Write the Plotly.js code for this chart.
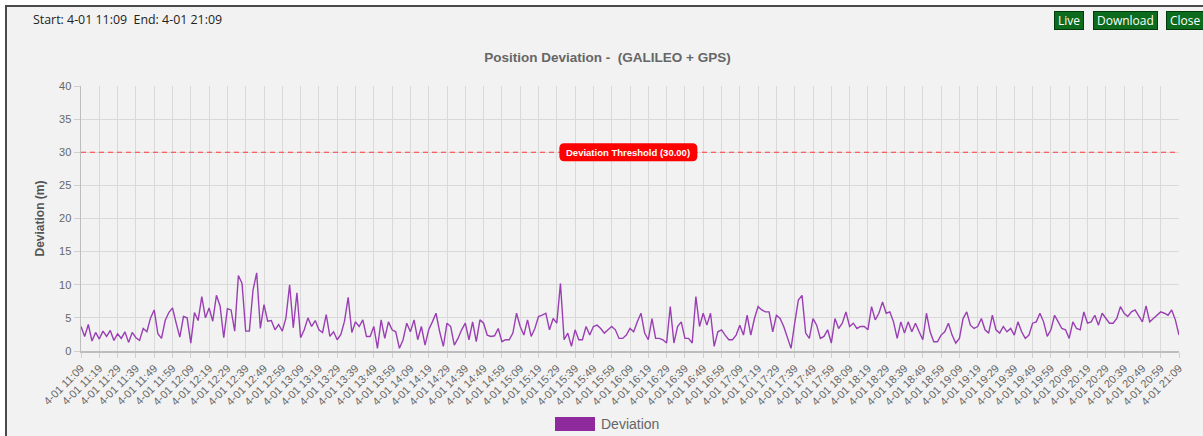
<!DOCTYPE html>
<html>
<head>
<meta charset="utf-8">
<script src="https://cdn.plot.ly/plotly-3.0.1.min.js"></script>
<style>
  html, body { margin: 0; padding: 0; background: #ffffff; width: 1203px; height: 436px; overflow: hidden; }
  #frame { position: absolute; left: 5px; top: 5px; width: 1200px; height: 440px; background: #f2f2f2;
           border-top: 2px solid #4a4a4a; border-left: 2px solid #4a4a4a; box-sizing: border-box; }
  #chart { position: absolute; left: 0; top: 0; width: 1203px; height: 436px; }
  #hdr { position: absolute; left: 33px; top: 11px; font-family: "Open Sans", "Noto Sans", sans-serif; font-size: 12.4px; color: #222; }
  .btn { position: absolute; top: 11px; height: 19px; line-height: 17px; box-sizing: border-box; background: #0c6b1c;
         border: 1px solid #003b0a; color: #ffffff; font-family: "Open Sans", "Noto Sans", sans-serif; font-size: 12px;
         padding: 0 3px; white-space: nowrap; }
</style>
</head>
<body>
<div id="frame"></div>
<div id="chart"></div>
<div id="hdr">Start: 4-01 11:09&nbsp; End: 4-01 21:09</div>
<div class="btn" style="left:1054px;width:30px;">Live</div>
<div class="btn" style="left:1093px;width:65px;">Download</div>
<div class="btn" style="left:1166px;width:42px;">Close</div>
<script>
// ---- data ----
const startLabel = "4-01 11:09";
const endLabel = "4-01 21:09";
const stepMinutes = 2;
const deviation = [
  3.7, 2.2, 4.0, 1.5, 2.8, 1.8, 3.0, 2.2, 3.1, 1.6, 2.6, 1.9, 2.9, 1.3, 2.8, 2.0, 1.6, 3.4, 2.9, 5.0,
  6.2, 2.6, 1.9, 4.6, 5.8, 6.5, 4.2, 2.1, 5.2, 5.0, 1.2, 5.8, 4.6, 8.2, 5.0, 6.5, 4.5, 8.4, 6.8, 2.0,
  6.4, 6.2, 3.0, 11.4, 10.2, 3.0, 3.0, 9.2, 11.8, 3.4, 7.0, 4.5, 4.6, 3.2, 4.0, 3.0, 5.0, 10.0, 3.5, 8.8,
  2.0, 3.2, 5.0, 3.7, 4.6, 3.2, 2.8, 5.5, 2.2, 2.9, 1.7, 2.5, 4.5, 8.1, 2.8, 4.4, 3.7, 4.7, 2.2, 2.2,
  3.7, 0.4, 4.7, 1.9, 4.4, 3.2, 2.9, 0.4, 1.7, 4.2, 2.9, 4.7, 1.7, 3.7, 0.9, 3.2, 4.4, 5.7, 2.9, 0.7,
  4.2, 3.7, 0.9, 1.9, 3.2, 4.2, 1.7, 4.4, 1.4, 4.7, 4.2, 2.4, 2.2, 2.3, 3.4, 1.4, 1.7, 1.7, 2.7, 5.7,
  3.7, 2.4, 4.7, 2.2, 3.4, 5.2, 5.4, 5.7, 3.2, 4.9, 4.2, 10.2, 1.7, 2.7, 0.7, 3.2, 1.7, 1.7, 3.7, 2.4,
  3.7, 3.9, 3.4, 2.7, 3.2, 3.7, 3.2, 1.9, 1.9, 2.4, 3.4, 2.9, 4.4, 5.7, 2.7, 1.7, 4.9, 1.9, 1.9, 1.7,
  1.2, 6.7, 1.2, 3.7, 4.4, 1.9, 1.9, 1.2, 8.2, 3.7, 5.7, 3.9, 5.7, 0.7, 2.9, 3.2, 2.4, 1.7, 1.7, 2.4,
  3.9, 2.4, 5.4, 2.4, 4.9, 6.7, 6.2, 5.9, 5.9, 2.9, 5.4, 4.9, 3.7, 2.2, 0.4, 4.2, 7.7, 8.4, 2.7, 1.9,
  4.9, 3.9, 1.9, 2.2, 3.2, 1.2, 4.9, 3.4, 4.2, 5.9, 3.7, 4.2, 3.4, 3.7, 3.7, 3.2, 6.7, 4.7, 5.7, 7.4,
  5.7, 5.9, 4.4, 1.9, 4.4, 2.7, 4.4, 2.9, 4.2, 2.9, 1.7, 5.7, 2.9, 1.4, 1.4, 2.4, 2.9, 4.2, 2.4, 1.2,
  1.9, 4.9, 5.9, 3.9, 3.4, 3.7, 4.9, 3.2, 2.7, 5.4, 3.2, 2.7, 3.7, 2.9, 3.4, 2.4, 4.4, 2.9, 1.9, 2.4,
  4.2, 4.4, 5.7, 4.4, 2.2, 3.2, 5.4, 4.4, 3.4, 3.2, 1.9, 4.4, 3.4, 3.2, 5.9, 4.2, 4.4, 5.4, 3.9, 5.7,
  4.9, 4.2, 4.2, 4.9, 6.7, 5.7, 5.2, 5.9, 6.2, 5.2, 4.4, 6.8, 4.4, 4.9, 5.4, 5.9, 5.7, 5.4, 6.2, 4.7,
  2.4
];
const tickLabels = [
  "4-01 11:09","4-01 11:19","4-01 11:29","4-01 11:39","4-01 11:49","4-01 11:59",
  "4-01 12:09","4-01 12:19","4-01 12:29","4-01 12:39","4-01 12:49","4-01 12:59",
  "4-01 13:09","4-01 13:19","4-01 13:29","4-01 13:39","4-01 13:49","4-01 13:59",
  "4-01 14:09","4-01 14:19","4-01 14:29","4-01 14:39","4-01 14:49","4-01 14:59",
  "4-01 15:09","4-01 15:19","4-01 15:29","4-01 15:39","4-01 15:49","4-01 15:59",
  "4-01 16:09","4-01 16:19","4-01 16:29","4-01 16:39","4-01 16:49","4-01 16:59",
  "4-01 17:09","4-01 17:19","4-01 17:29","4-01 17:39","4-01 17:49","4-01 17:59",
  "4-01 18:09","4-01 18:19","4-01 18:29","4-01 18:39","4-01 18:49","4-01 18:59",
  "4-01 19:09","4-01 19:19","4-01 19:29","4-01 19:39","4-01 19:49","4-01 19:59",
  "4-01 20:09","4-01 20:19","4-01 20:29","4-01 20:39","4-01 20:49","4-01 20:59",
  "4-01 21:09"
];
const tickMinutes = 10;
const threshold = 30;
const seriesName = "Deviation";
const chartTitle = "Position Deviation -  (GALILEO + GPS)";
const yTitle = "Deviation (m)";

// ---- build ----
const xMinutes = deviation.map((_, i) => i * stepMinutes);
const tickVals = tickLabels.map((_, i) => i * tickMinutes);
const lineColor = "#9a3fb3";
const fam = "Liberation Sans, Arial, sans-serif";
const axisFont = { family: fam, size: 11, color: "#666666" };

const trace = {
  type: "scatter", mode: "lines", name: seriesName,
  x: xMinutes, y: deviation,
  line: { color: lineColor, width: 1.4 },
  showlegend: false, hoverinfo: "x+y"
};

// rounded label box path (pixel units around anchor)
const bw = 138, bh = 18, r = 5;
const hw = bw / 2, hh = bh / 2;
const boxPath = `M ${-hw + r} ${-hh} L ${hw - r} ${-hh} Q ${hw} ${-hh} ${hw} ${-hh + r} L ${hw} ${hh - r} Q ${hw} ${hh} ${hw - r} ${hh} ` +
                `L ${-hw + r} ${hh} Q ${-hw} ${hh} ${-hw} ${hh - r} L ${-hw} ${-hh + r} Q ${-hw} ${-hh} ${-hw + r} ${-hh} Z`;
const labelX = 0.4985;

const layout = {
  width: 1203, height: 436,
  margin: { l: 81, r: 24, t: 86, b: 85 },
  paper_bgcolor: "rgba(0,0,0,0)", plot_bgcolor: "rgba(0,0,0,0)",
  font: { family: fam, color: "#666666" },
  title: {
    text: "<b>" + chartTitle + "</b>",
    font: { family: fam, size: 13.5, color: "#666666" },
    x: 0.505, xanchor: "center", y: 1 - 57 / 436, yanchor: "middle", yref: "container"
  },
  xaxis: {
    type: "linear", range: [0, (tickLabels.length - 1) * tickMinutes],
    tickmode: "array", tickvals: tickVals, ticktext: tickLabels,
    tickangle: -45, tickfont: { family: fam, size: 11, color: "#666666" },
    showgrid: true, gridcolor: "#d9d9d9", gridwidth: 1,
    showline: true, linecolor: "#bdbdbd", linewidth: 1.5,
    ticks: "outside", ticklen: 5, tickcolor: "#d0d0d0",
    zeroline: false, fixedrange: true
  },
  yaxis: {
    range: [0, 40], dtick: 5, tick0: 0,
    tickfont: axisFont,
    showgrid: true, gridcolor: "#d9d9d9", gridwidth: 1,
    showline: true, linecolor: "#bdbdbd", linewidth: 1.5,
    ticks: "outside", ticklen: 6, tickcolor: "#d0d0d0",
    zeroline: false, fixedrange: true,
    title: { text: "<b>" + yTitle + "</b>", font: { family: fam, size: 12, color: "#555555" }, standoff: 12 }
  },
  shapes: [
    { type: "line", xref: "paper", x0: 0, x1: 1, yref: "y", y0: threshold, y1: threshold,
      line: { color: "#ff3b3b", width: 1.2, dash: "5px,4px" } },
    { type: "path", xref: "paper", yref: "y", xsizemode: "pixel", ysizemode: "pixel",
      xanchor: labelX, yanchor: threshold, path: boxPath,
      fillcolor: "#ff0000", line: { color: "#ff0000", width: 0 } },
    { type: "rect", xref: "paper", yref: "paper",
      x0: (555 - 81) / 1098, x1: (595 - 81) / 1098, y0: (351 - 431) / 265, y1: (351 - 417) / 265,
      fillcolor: "#8e2a9c", line: { color: "#8e2a9c", width: 0 } }
  ],
  annotations: [
    { xref: "paper", yref: "y", x: labelX, y: threshold, showarrow: false,
      text: "<b>Deviation Threshold (" + threshold.toFixed(2) + ")</b>",
      font: { family: fam, size: 9.5, color: "#ffffff" },
      xanchor: "center", yanchor: "middle" },
    { xref: "paper", yref: "paper", x: (599 - 81) / 1098, y: (351 - 424) / 265, showarrow: false,
      text: seriesName, xanchor: "left", yanchor: "middle",
      font: { family: fam, size: 14, color: "#666666" } }
  ]
};

Plotly.newPlot("chart", [trace], layout, { displayModeBar: false, staticPlot: true });
</script>
</body>
</html>
